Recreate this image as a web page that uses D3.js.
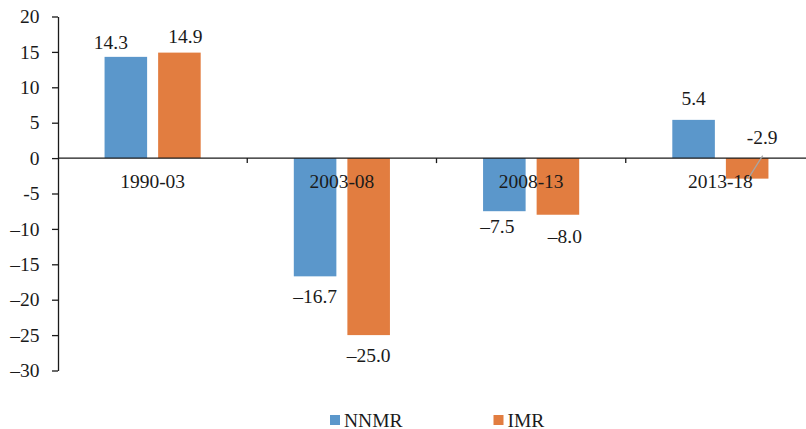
<!DOCTYPE html>
<html>
<head>
<meta charset="utf-8">
<script src="https://cdn.jsdelivr.net/npm/d3@7"></script>
<style>
  html, body { margin: 0; padding: 0; background: #fff; }
  svg { display: block; }
  text { font-family: "Liberation Serif", "Times New Roman", serif; fill: #1a1a1a; }
</style>
</head>
<body>
<svg id="chart" width="806" height="429"></svg>
<script>
// Period-on-period change, neonatal (NNMR) vs infant (IMR) mortality rate
const periods = ["1990-03", "2003-08", "2008-13", "2013-18"];
const seriesNames = ["NNMR", "IMR"];
const nnmrValues = [14.3, -16.7, -7.5, 5.4];
const imrValues = [14.9, -25.0, -8.0, -2.9];
const nnmrLabels = ["14.3", "\u201316.7", "\u20137.5", "5.4"];
const imrLabels = ["14.9", "\u201325.0", "\u20138.0", "-2.9"];
const yTickValues = [20, 15, 10, 5, 0, -5, -10, -15, -20, -25, -30];
const yTickLabels = ["20", "15", "10", "5", "0", "-5", "\u201310", "\u201315", "\u201320", "\u201325", "\u201330"];

// layout
const colors = { NNMR: "#5b97cb", IMR: "#e27d40" };
const fontSize = 19.5;
const axisX = 58, yTop = 16.5, yBottom = 370.5, plotRight = 815;
// hand-placed label nudges [dx, dy] per series, per period
const labelNudge = {
  NNMR: [[-15, 0], [0, 5], [-7, 0], [0, -7]],
  IMR:  [[6, -1.5], [0, 5], [7, 6], [15, -57]]
};

const svg = d3.select("#chart");

const y = d3.scaleLinear().domain([-30, 20]).range([yBottom, yTop]);
const x0 = d3.scaleBand().domain(periods).range([axisX, plotRight]).padding(0);
const x1 = d3.scaleBand().domain(seriesNames).range([0, x0.bandwidth()])
  .paddingInner(0.2056).paddingOuter(0.869);

const rows = periods.map((p, i) => ({
  period: p,
  items: [
    { series: "NNMR", value: nnmrValues[i], label: nnmrLabels[i], nudge: labelNudge.NNMR[i] },
    { series: "IMR", value: imrValues[i], label: imrLabels[i], nudge: labelNudge.IMR[i] }
  ]
}));
const items = rows.flatMap(r => r.items.map(d => ({ ...d, period: r.period })));

// bars
svg.append("g").selectAll("rect").data(items).join("rect")
  .attr("x", d => x0(d.period) + x1(d.series))
  .attr("width", x1.bandwidth())
  .attr("y", d => y(Math.max(0, d.value)))
  .attr("height", d => Math.abs(y(d.value) - y(0)))
  .attr("fill", d => colors[d.series]);

// y axis
const yAxis = d3.axisLeft(y)
  .tickValues(yTickValues)
  .tickFormat((d, i) => yTickLabels[i])
  .tickSize(6).tickSizeOuter(0).tickPadding(12.5);
const gy = svg.append("g").attr("transform", `translate(${axisX},0)`).call(yAxis);
gy.selectAll("path, line").attr("stroke", "#1a1a1a").attr("stroke-width", 1.3);
gy.selectAll("text").style("font-size", fontSize + "px")
  .style("font-family", '"Liberation Serif", serif').attr("fill", "#1a1a1a");

// category axis on the zero line
const y0 = y(0);
const gx = svg.append("g");
gx.append("line").attr("x1", axisX).attr("x2", 806).attr("y1", y0).attr("y2", y0)
  .attr("stroke", "#1a1a1a").attr("stroke-width", 1.3);
gx.selectAll("line.tick").data(periods.slice(1)).join("line").attr("class", "tick")
  .attr("x1", d => x0(d)).attr("x2", d => x0(d))
  .attr("y1", y0).attr("y2", y0 + 5)
  .attr("stroke", "#1a1a1a").attr("stroke-width", 1.3);
gx.selectAll("text").data(periods).join("text")
  .attr("x", d => x0(d) + x0.bandwidth() / 2)
  .attr("y", y0 + 30)
  .attr("text-anchor", "middle")
  .style("font-size", fontSize + "px")
  .text(d => d);

// value labels
const labelX = d => x0(d.period) + x1(d.series) + x1.bandwidth() / 2 + d.nudge[0];
const labelY = d => (d.value >= 0 ? y(d.value) - 8 : y(d.value) + 22) + d.nudge[1];

svg.append("g").selectAll("text").data(items).join("text")
  .attr("x", labelX)
  .attr("y", labelY)
  .attr("text-anchor", "middle")
  .style("font-size", fontSize + "px")
  .text(d => d.label);

// leader line for a label moved away from its bar
const moved = items.filter(d => Math.abs(d.nudge[1]) > 20);
svg.append("g").selectAll("line").data(moved).join("line")
  .attr("x1", d => labelX(d) + 0.5)
  .attr("y1", d => labelY(d) + 12)
  .attr("x2", d => x0(d.period) + x1(d.series) + x1.bandwidth() / 2 + 1)
  .attr("y2", d => y(d.value))
  .attr("stroke", "#a6a6a6").attr("stroke-width", 1.2);

// legend
const legendPos = { NNMR: 330, IMR: 493.5 };
const lg = svg.append("g").selectAll("g").data(seriesNames).join("g")
  .attr("transform", d => `translate(${legendPos[d]},415)`);
lg.append("rect").attr("width", 10).attr("height", 10).attr("fill", d => colors[d]);
lg.append("text").attr("x", 14).attr("y", 11.5)
  .style("font-size", fontSize + "px").text(d => d);
</script>
</body>
</html>
